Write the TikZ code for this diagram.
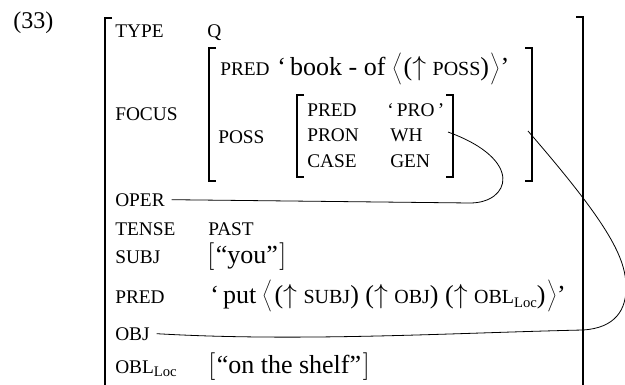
\documentclass[tikz,border=0pt]{standalone}
\usepackage{fontspec}
\setmainfont{Liberation Serif}

\newcommand{\sca}[1]{{\fontsize{15}{16}\selectfont #1}}
\newcommand{\lc}{\raisebox{-0.35ex}{\fontsize{11}{11}\selectfont Loc}}
\newcommand{\lang}{\ensuremath{\left\langle\vrule height 18pt depth 7pt width 0pt\right.}}
\newcommand{\rang}{\ensuremath{\left.\vrule height 18pt depth 7pt width 0pt\right\rangle}}
\newcommand{\lsq}{\ensuremath{\left[\vrule height 12pt depth 4pt width 0pt\right.}}
\newcommand{\rsq}{\ensuremath{\left.\vrule height 12pt depth 4pt width 0pt\right]}}

\begin{document}
\begin{tikzpicture}[x=0.75pt, y=-0.75pt,
    lbl/.style={anchor=base west, inner sep=0pt, font=\fontsize{14.5}{16}\selectfont},
    val/.style={anchor=base west, inner sep=0pt, font=\fontsize{19.5}{21}\selectfont},
    brk/.style={line width=1.1pt},
    link/.style={line width=0.6pt}]
    \useasboundingbox (0,0) rectangle (625,385);

    \node[lbl, font=\fontsize{18}{20}\selectfont] (ex) at (13,29) {(33)};

    % outer f-structure
    \draw[line width=1.5pt] (112,18) -- (105,18) -- (105,386);
    \draw[line width=1.5pt] (576,17) -- (583,17) -- (583,386);
    \foreach \n/\y/\t in {type/38/TYPE, focus/121/FOCUS, oper/206/OPER, tense/235/TENSE, subj/263/SUBJ, pred/303/PRED, obj/340/OBJ}
        \node[lbl] (\n) at (115,\y) {\t};
    \node[lbl] (obl) at (115,373) {OBL\lc};

    \node[lbl] (q) at (207,38) {Q};
    \node[lbl] (past) at (208,235) {PAST};
    \node[val] (you) at (207,263) {\lsq“you”\rsq};
    \node[val] (put) at (210,303) {‘\,put \lang($\uparrow$ \sca{SUBJ}) ($\uparrow$ \sca{OBJ}) ($\uparrow$ \sca{OBL}\lc)\rang’};
    \node[val] (shelf) at (208,373) {\lsq“on the shelf”\rsq};

    % FOCUS value
    \draw[brk] (216,48) -- (209,48) -- (209,181) -- (216,181);
    \draw[brk] (525,48) -- (532,48) -- (532,181) -- (525,181);
    \node[lbl] (fpred) at (220,76) {PRED};
    \node[val] (book) at (277,76) {‘\,book - of \lang($\uparrow$ \sca{POSS})\rang’};
    \node[lbl] (poss) at (218,143) {POSS};

    % POSS value
    \draw[brk] (304,95) -- (297,95) -- (297,177) -- (304,177);
    \draw[brk] (446,95) -- (453,95) -- (453,177) -- (446,177);
    \foreach \n/\y/\t in {ppred/117/PRED, pron/142/PRON, case/167/CASE}
        \node[lbl] (\n) at (307,\y) {\t};
    \node[lbl] (pro) at (387,117) {‘\,PRO\,’};
    \node[lbl] (wh) at (390,142) {WH};
    \node[lbl] (gen) at (390,167) {GEN};

    % control lines
    \coordinate (whend) at (448,132);
    \coordinate (focusend) at (528,131);
    \draw[link] ([xshift=5pt]oper.east) -- (470,203) .. controls (510,203) and (525,160) .. (whend);
    \draw[link] ([xshift=5pt]obj.east) .. controls (300,342) and (450,333) .. (583,330)
        .. controls (615,328) and (627,310) .. (626,285)
        .. controls (625,255) and (605,220) .. (focusend);
\end{tikzpicture}
\end{document}
